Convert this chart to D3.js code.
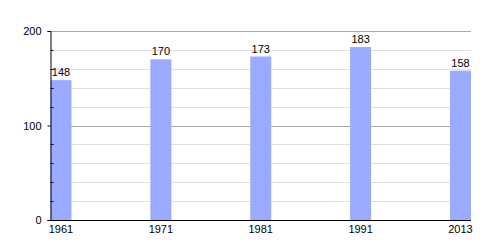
<!DOCTYPE html>
<html>
<head>
<meta charset="utf-8">
<script src="https://cdn.jsdelivr.net/npm/d3@7"></script>
<style>
body { margin: 0; background: #fff; }
text { font-family: "Liberation Sans", Arial, sans-serif; font-size: 11px; fill: #000; }
</style>
</head>
<body>
<svg id="chart"></svg>
<script>
var years = ["1961", "1971", "1981", "1991", "2013"];
var population = [148, 170, 173, 183, 158];
var majorTicks = [0, 100, 200];
var minorTicks = [20, 40, 60, 80, 120, 140, 160, 180];

var w = 500, h = 250;
var plotLeft = 50.5, plotRight = 471, plotTop = 31, plotBottom = 220;
var barW = 21;

var svg = d3.select("#chart").attr("width", w).attr("height", h);

var x = d3.scalePoint().domain(years).range([plotLeft, plotRight - barW]);
var y = d3.scaleLinear().domain([0, 200]).range([plotBottom, plotTop]);

// minor grid lines
svg.append("g").selectAll("line").data(minorTicks).join("line")
    .attr("x1", plotLeft).attr("x2", plotRight)
    .attr("y1", d => Math.round(y(d)) + 0.5).attr("y2", d => Math.round(y(d)) + 0.5)
    .attr("stroke", "#e0e0e0");

// major grid lines
svg.append("g").selectAll("line").data(majorTicks.slice(1)).join("line")
    .attr("x1", plotLeft).attr("x2", plotRight)
    .attr("y1", d => Math.round(y(d)) + 0.5).attr("y2", d => Math.round(y(d)) + 0.5)
    .attr("stroke", "#aaaaaa");

// bars
svg.append("g").selectAll("rect").data(population).join("rect")
    .attr("x", (d, i) => x(years[i]))
    .attr("y", d => y(d))
    .attr("width", barW)
    .attr("height", d => plotBottom - y(d))
    .attr("fill", "#99aaff");

// value labels
svg.append("g").selectAll("text").data(population).join("text")
    .attr("x", (d, i) => x(years[i]) + barW / 2)
    .attr("y", d => y(d) - 4)
    .attr("text-anchor", "middle")
    .text(d => d);

// y axis
var yAxis = d3.axisLeft(y).tickValues(majorTicks).tickSize(3).tickPadding(6);
var gy = svg.append("g").attr("transform", `translate(${plotLeft},0)`).call(yAxis);
gy.select(".domain").attr("stroke", "#000");
gy.selectAll("text").style("font-size", "11px").style("font-family", "Liberation Sans, Arial, sans-serif");

// minor ticks on y axis
svg.append("g").selectAll("line").data(minorTicks).join("line")
    .attr("x1", plotLeft).attr("x2", plotLeft + 3)
    .attr("y1", d => Math.round(y(d)) + 0.5).attr("y2", d => Math.round(y(d)) + 0.5)
    .attr("stroke", "#000");

// x axis line
svg.append("line")
    .attr("x1", plotLeft).attr("x2", plotRight)
    .attr("y1", plotBottom + 0.5).attr("y2", plotBottom + 0.5)
    .attr("stroke", "#000");

// x labels
svg.append("g").selectAll("text").data(years).join("text")
    .attr("x", d => x(d) + barW / 2)
    .attr("y", plotBottom + 13)
    .attr("text-anchor", "middle")
    .text(d => d);
</script>
</body>
</html>
